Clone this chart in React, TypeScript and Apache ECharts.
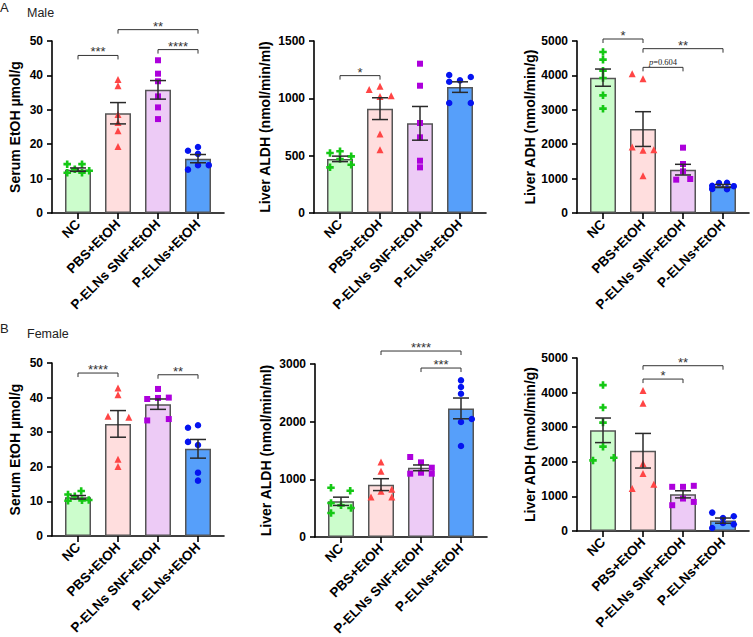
import React, { useEffect, useRef } from 'react';
import * as echarts from 'echarts';

const categories = ['NC', 'PBS+EtOH', 'P-ELNs SNF+EtOH', 'P-ELNs+EtOH'];
const fills = ['#ccfdcc', '#ffdede', '#edcbf6', '#569ffa'];
const pointColors = ['#14c814', '#ff4545', '#ad00dc', '#0514f0'];
const pointSymbols = ['path://M2.6,0H5.4V2.6H8V5.4H5.4V8H2.6V5.4H0V2.6H2.6Z', 'triangle', 'rect', 'circle'];
const pointSizes = [7.5, 7, 6, 6.5];

const serumName = 'Serum EtOH µmol/g';
const aldhName = 'Liver ALDH (nmol/min/ml)';
const adhName = 'Liver ADH (nmol/min/g)';

// ---- A: Male ----
const maleSerumMeans = [12.6, 29.0, 35.8, 15.8];
const maleSerumSem = [0.5, 3.1, 2.7, 1.2];
const maleSerumPoints = [
  [14.2, 14.2, 12.7, 12.3, 11.7, 11.7],
  [38.8, 37.0, 28.6, 26.3, 23.9, 19.3],
  [44.4, 40.5, 38.3, 33.9, 30.7, 27.3],
  [18.1, 19.2, 17.2, 12.6, 13.9, 13.9],
];
const maleSerumJitter = [
  [-0.27, 0.1, -0.08, 0.28, -0.27, 0.1],
  [0, 0, 0, 0, 0, 0],
  [0, 0, 0, 0, 0, 0],
  [-0.25, 0, 0, -0.25, 0, 0.27],
];
const maleSerumBrackets = [[0, 1, 45.8], [1, 3, 53.3], [2, 3, 47.5]];
const maleSerumLabels = ['***', '**', '****'];

const maleAldhMeans = [472, 910, 782, 1098];
const maleAldhSem = [24, 95, 147, 46];
const maleAldhPoints = [
  [523, 538, 494, 471, 398, 421],
  [1076, 1105, 1017, 1023, 689, 552],
  [1302, 1110, 785, 660, 456, 398],
  [1203, 1145, 1157, 1186, 959, 959],
];
const maleAldhJitter = [
  [-0.25, 0, 0.28, 0, -0.25, 0.28],
  [-0.27, 0, 0, 0.28, 0, 0],
  [0, 0, 0, 0, 0, 0],
  [-0.27, -0.27, 0, 0.27, -0.27, 0.27],
];
const maleAldhBrackets = [[0, 1, 1198]];
const maleAldhLabels = ['*'];

const maleAdhMeans = [3935, 2440, 1260, 785];
const maleAdhSem = [250, 505, 155, 45];
const maleAdhPoints = [
  [4680, 4457, 4138, 3925, 3421, 3033],
  [4050, 3905, 1919, 1822, 1841, 1085],
  [1899, 1424, 1210, 969, 988],
  [700, 870, 880, 780, 690, 790],
];
const maleAdhJitter = [
  [0, 0, 0, 0, 0, 0],
  [-0.27, 0, -0.27, 0, 0.27, 0],
  [0, 0, 0, -0.17, 0.18],
  [-0.27, -0.1, 0.1, 0.27, 0.1, -0.27],
];
const maleAdhBrackets = [[0, 1, 5058], [1, 3, 4777], [1, 2, 4234]];
const maleAdhLabels = ['*', '**', 'p=0.604'];

// ---- B: Female ----
const femaleSerumMeans = [11.2, 32.4, 38.1, 25.2];
const femaleSerumSem = [0.5, 3.85, 1.5, 2.7];
const femaleSerumPoints = [
  [12.0, 13.0, 10.2, 11.5, 10.3, 10.4],
  [42.8, 40.8, 34.6, 34.3, 22.2, 20.1],
  [42.5, 39.6, 39.9, 40.0, 33.4, 33.8],
  [32.0, 31.3, 27.2, 26.3, 18.3, 16.0],
];
const femaleSerumJitter = [
  [-0.25, 0.08, -0.25, -0.08, 0.1, 0.27],
  [0, 0, -0.25, 0.27, 0, 0],
  [0, -0.27, 0, 0.27, -0.27, 0.27],
  [0, -0.25, -0.25, 0, 0, 0],
];
const femaleSerumBrackets = [[0, 1, 47.1], [2, 3, 46.6]];
const femaleSerumLabels = ['****', '**'];

const femaleAldhMeans = [619, 908, 1199, 2230];
const femaleAldhSem = [72, 103, 50, 180];
const femaleAldhPoints = [
  [855, 803, 590, 549, 416, 503],
  [1300, 1139, 827, 792, 694, 694],
  [1387, 1295, 1098, 1115, 1202, 1098],
  [2717, 2601, 2485, 2046, 1994, 1578],
];
const femaleAldhJitter = [
  [-0.25, 0.23, -0.25, 0, -0.25, 0.25],
  [0, 0, 0.27, 0, -0.25, 0.27],
  [-0.27, 0, -0.27, 0, 0.27, 0.27],
  [0, 0, 0, 0.27, 0, 0],
];
const femaleAldhBrackets = [[1, 3, 3225], [2, 3, 2930]];
const femaleAldhLabels = ['****', '***'];

const femaleAdhMeans = [2910, 2320, 1060, 300];
const femaleAdhSem = [355, 500, 103, 75];
const femaleAdhPoints = [
  [4217, 3569, 3133, 2437, 2041, 2118],
  [4062, 3694, 1954, 1663, 1228, 1354],
  [1277, 1277, 1306, 938, 745, 841],
  [532, 377, 426, 232, 193, 87],
];
const femaleAdhJitter = [
  [0, 0, 0, 0, -0.25, 0.27],
  [0, 0, 0, 0, -0.27, 0.27],
  [-0.27, 0, 0.27, 0, -0.27, 0.27],
  [-0.27, 0, 0.27, 0, 0.27, -0.27],
];
const femaleAdhBrackets = [[1, 2, 4391], [1, 3, 4777]];
const femaleAdhLabels = ['*', '**'];

const FONT = '"Liberation Sans", Arial, Helvetica, sans-serif';

type Panel = {
  grid: { left: number; top: number; width: number; height: number };
  yMax: number;
  yInterval: number;
  yName: string;
  nameGap: number;
  means: number[];
  sems: number[];
  points: number[][];
  jitter: number[][];
  brackets: number[][];
  labels: string[];
};

const panels: Panel[] = [
  { grid: { left: 52, top: 41, width: 172, height: 172 }, yMax: 50, yInterval: 10, yName: serumName, nameGap: 30,
    means: maleSerumMeans, sems: maleSerumSem, points: maleSerumPoints, jitter: maleSerumJitter, brackets: maleSerumBrackets, labels: maleSerumLabels },
  { grid: { left: 314, top: 41, width: 172, height: 172 }, yMax: 1500, yInterval: 500, yName: aldhName, nameGap: 42,
    means: maleAldhMeans, sems: maleAldhSem, points: maleAldhPoints, jitter: maleAldhJitter, brackets: maleAldhBrackets, labels: maleAldhLabels },
  { grid: { left: 577, top: 41, width: 172, height: 172 }, yMax: 5000, yInterval: 1000, yName: adhName, nameGap: 40,
    means: maleAdhMeans, sems: maleAdhSem, points: maleAdhPoints, jitter: maleAdhJitter, brackets: maleAdhBrackets, labels: maleAdhLabels },
  { grid: { left: 52, top: 363, width: 172, height: 173 }, yMax: 50, yInterval: 10, yName: serumName, nameGap: 30,
    means: femaleSerumMeans, sems: femaleSerumSem, points: femaleSerumPoints, jitter: femaleSerumJitter, brackets: femaleSerumBrackets, labels: femaleSerumLabels },
  { grid: { left: 315, top: 364, width: 172, height: 173 }, yMax: 3000, yInterval: 1000, yName: aldhName, nameGap: 42,
    means: femaleAldhMeans, sems: femaleAldhSem, points: femaleAldhPoints, jitter: femaleAldhJitter, brackets: femaleAldhBrackets, labels: femaleAldhLabels },
  { grid: { left: 577, top: 358, width: 172, height: 173 }, yMax: 5000, yInterval: 1000, yName: adhName, nameGap: 40,
    means: femaleAdhMeans, sems: femaleAdhSem, points: femaleAdhPoints, jitter: femaleAdhJitter, brackets: femaleAdhBrackets, labels: femaleAdhLabels },
];

function buildOption() {
  const grids: any[] = [];
  const xAxes: any[] = [];
  const yAxes: any[] = [];
  const series: any[] = [];

  panels.forEach((p, k) => {
    grids.push({ ...p.grid, containLabel: false, outerBoundsMode: 'none' });
    xAxes.push({
      type: 'value', gridIndex: k, min: -0.65, max: 3.65,
      splitLine: { show: false },
      axisLine: { show: true, onZero: false, lineStyle: { color: '#000', width: 1.6 } },
      axisTick: { show: true, customValues: [0, 1, 2, 3], length: 6, lineStyle: { color: '#000', width: 1.6 } },
      axisLabel: {
        show: true, customValues: [0, 1, 2, 3], rotate: 45, margin: 9,
        formatter: (v: number) => categories[Math.round(v)] ?? '',
        fontFamily: FONT, fontWeight: 'bold', fontSize: 13.5, color: '#000',
      },
    });
    yAxes.push({
      type: 'value', gridIndex: k, min: 0, max: p.yMax, interval: p.yInterval,
      name: p.yName, nameLocation: 'middle', nameGap: p.nameGap,
      nameTextStyle: { fontFamily: FONT, fontWeight: 'bold', fontSize: 14, color: '#000' },
      splitLine: { show: false },
      axisLine: { show: true, onZero: false, lineStyle: { color: '#000', width: 1.6 } },
      axisTick: { show: true, length: 5, lineStyle: { color: '#000', width: 1.6 } },
      axisLabel: {
        margin: 9, fontFamily: FONT, fontWeight: 'bold', fontSize: 12, color: '#000',
        formatter: (v: number) => String(v),
      },
    });

    series.push({
      type: 'bar', xAxisIndex: k, yAxisIndex: k, barWidth: 26, z: 2,
      data: p.means.map((m, i) => ({
        value: [i, m],
        itemStyle: { color: fills[i], borderColor: '#555', borderWidth: 1.5 },
      })),
    });

    p.points.forEach((vals, i) => {
      series.push({
        type: 'scatter', xAxisIndex: k, yAxisIndex: k, z: 3,
        symbol: pointSymbols[i], symbolSize: pointSizes[i],
        itemStyle: { color: pointColors[i], opacity: 1 },
        data: vals.map((v, j) => [i + p.jitter[i][j], v]),
      });
    });

    series.push({
      type: 'custom', xAxisIndex: k, yAxisIndex: k, z: 4, clip: false,
      data: p.means.map((m, i) => [i, m, p.sems[i]]),
      renderItem: (params: any, api: any) => {
        const x = api.value(0), m = api.value(1), s = api.value(2);
        const t = api.coord([x, m + s]);
        const b = api.coord([x, m - s]);
        const cw = 8;
        const st = { stroke: '#2a2a2a', lineWidth: 1.5 };
        return {
          type: 'group',
          children: [
            { type: 'line', shape: { x1: t[0], y1: t[1], x2: b[0], y2: b[1] }, style: st },
            { type: 'line', shape: { x1: t[0] - cw, y1: t[1], x2: t[0] + cw, y2: t[1] }, style: st },
            { type: 'line', shape: { x1: b[0] - cw, y1: b[1], x2: b[0] + cw, y2: b[1] }, style: st },
          ],
        };
      },
    });

    series.push({
      type: 'custom', xAxisIndex: k, yAxisIndex: k, z: 5, clip: false,
      encode: { x: [0, 1], y: 2 },
      data: p.brackets.map((b, i) => [b[0], b[1], b[2], i]),
      renderItem: (params: any, api: any) => {
        const a = api.coord([api.value(0), api.value(2)]);
        const c = api.coord([api.value(1), api.value(2)]);
        const label = p.labels[api.value(3)];
        const isP = label.startsWith('p=');
        const st = { stroke: '#333', lineWidth: 1, fill: 'none' };
        return {
          type: 'group',
          children: [
            { type: 'polyline', shape: { points: [[a[0], a[1] + 4], [a[0], a[1]], [c[0], c[1]], [c[0], c[1] + 4]] }, style: st },
            isP
              ? {
                  type: 'text', x: (a[0] + c[0]) / 2, y: a[1] - 1,
                  style: {
                    text: '{i|p}=0.604', textAlign: 'center', textVerticalAlign: 'bottom',
                    fontFamily: '"Liberation Serif", "Times New Roman", serif', fontSize: 8.5, fill: '#222',
                    rich: { i: { fontStyle: 'italic', fontFamily: '"Liberation Serif", "Times New Roman", serif', fontSize: 8.5, fill: '#222' } },
                  },
                }
              : {
                  type: 'text', x: (a[0] + c[0]) / 2, y: a[1] + 3,
                  style: { text: label, textAlign: 'center', textVerticalAlign: 'bottom', fontFamily: FONT, fontSize: 13, fill: '#333' },
                },
          ],
        };
      },
    });
  });

  return {
    animation: false,
    backgroundColor: '#fff',
    grid: grids,
    xAxis: xAxes,
    yAxis: yAxes,
    series,
    graphic: [
      { type: 'text', left: 0, top: 1, style: { text: 'A', fontFamily: FONT, fontSize: 13, fill: '#222' } },
      { type: 'text', left: 27, top: 6, style: { text: 'Male', fontFamily: FONT, fontSize: 12.5, fill: '#222' } },
      { type: 'text', left: 0, top: 322, style: { text: 'B', fontFamily: FONT, fontSize: 13, fill: '#222' } },
      { type: 'text', left: 27, top: 327, style: { text: 'Female', fontFamily: FONT, fontSize: 12.5, fill: '#222' } },
    ],
  };
}

export default function App() {
  const ref = useRef<HTMLDivElement>(null);
  useEffect(() => {
    if (!ref.current) return;
    const chart = echarts.init(ref.current, undefined, { renderer: 'svg' });
    chart.setOption(buildOption() as any);
    return () => chart.dispose();
  }, []);
  return (
    <div
      ref={ref}
      style={{ position: 'fixed', left: 0, top: 0, width: 753, height: 637, background: '#fff' }}
    />
  );
}
